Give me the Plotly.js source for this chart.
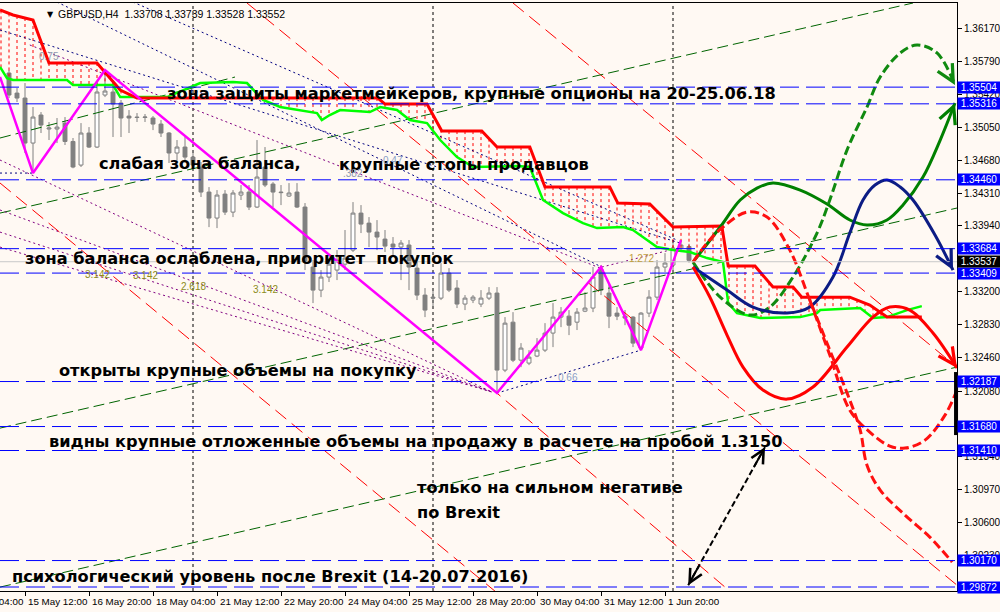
<!DOCTYPE html>
<html><head><meta charset="utf-8">
<script src="https://cdn.plot.ly/plotly-3.0.1.min.js"></script>
<style>html,body{margin:0;padding:0;background:#FFF9F3;}</style>
</head><body>
<div id="chart" style="width:1000px;height:612px"></div>
<script>
// ---------- candles (bar index, 4h bars; index 0 = 15 May 12:00) ----------
const firstBar = -2;
const openP  = [1.35663,1.35437,1.35381,1.34874,1.35190,1.35032,1.35032,1.35099,1.34892,1.34626,1.34987,1.34829,1.35415,1.35449,1.35325,1.35178,1.35167,1.35162,1.35156,1.35088,1.34987,1.34762,1.34829,1.34716,1.34604,1.34322,1.34029,1.34299,1.34096,1.34288,1.34322,1.34153,1.34604,1.34412,1.34322,1.34277,1.34322,1.34153,1.33477,1.33217,1.33364,1.33443,1.33510,1.33668,1.34085,1.33972,1.33871,1.33792,1.33736,1.33702,1.33725,1.33465,1.33161,1.33138,1.33127,1.33409,1.33240,1.33060,1.33105,1.33060,1.33127,1.33184,1.32316,1.32856,1.32428,1.32395,1.32474,1.32541,1.32733,1.32913,1.32924,1.32856,1.32980,1.33015,1.33454,1.33184,1.32958,1.32924,1.32913,1.32564,1.32958,1.33138,1.33477,1.33499,1.33691,1.33708];
const highP  = [1.35697,1.35494,1.35550,1.35280,1.35223,1.35111,1.35156,1.35167,1.34931,1.35099,1.35054,1.35550,1.35674,1.35584,1.35359,1.35246,1.35212,1.35201,1.35178,1.35133,1.34998,1.34908,1.34942,1.34795,1.34660,1.34378,1.34344,1.34344,1.34344,1.34401,1.34401,1.34908,1.34829,1.34434,1.34401,1.34423,1.34423,1.34198,1.33555,1.33443,1.33578,1.33668,1.33894,1.34209,1.34175,1.34040,1.34006,1.33894,1.33815,1.33781,1.33781,1.33612,1.33240,1.33217,1.33521,1.33465,1.33330,1.33161,1.33161,1.33217,1.33251,1.33251,1.32913,1.32969,1.32620,1.32541,1.32677,1.32845,1.33071,1.33026,1.32992,1.33015,1.33195,1.33477,1.33499,1.33296,1.33026,1.32992,1.32924,1.32969,1.33217,1.33555,1.33634,1.33781,1.33781,1.33739];
const lowP   = [1.35381,1.35336,1.34762,1.34536,1.34987,1.34908,1.34874,1.34852,1.34590,1.34604,1.34818,1.34818,1.35392,1.34942,1.34942,1.34987,1.35111,1.35111,1.35020,1.34942,1.34649,1.34682,1.34649,1.34570,1.34266,1.33927,1.33916,1.34063,1.34040,1.34232,1.34119,1.34142,1.34378,1.34153,1.34175,1.34266,1.34142,1.33443,1.33071,1.33138,1.33308,1.33330,1.33443,1.33646,1.33860,1.33702,1.33668,1.33646,1.33601,1.33330,1.33217,1.33105,1.32913,1.33026,1.33105,1.33195,1.33015,1.32992,1.33071,1.33026,1.33105,1.32057,1.32293,1.32406,1.32349,1.32372,1.32462,1.32519,1.32575,1.32800,1.32710,1.32767,1.32969,1.32969,1.33161,1.32789,1.32879,1.32822,1.32575,1.32541,1.32913,1.33105,1.33420,1.33443,1.33646,1.33528];
const closeP = [1.35415,1.35381,1.34874,1.35167,1.35077,1.35043,1.35054,1.34892,1.34604,1.34987,1.34829,1.35449,1.35460,1.35314,1.35156,1.35156,1.35162,1.35167,1.35088,1.34987,1.34762,1.34829,1.34716,1.34626,1.34322,1.34029,1.34288,1.34096,1.34311,1.34322,1.34153,1.34491,1.34401,1.34322,1.34316,1.34311,1.34153,1.33533,1.33217,1.33364,1.33510,1.33555,1.33578,1.34085,1.33961,1.33871,1.33815,1.33713,1.33702,1.33747,1.33477,1.33161,1.32992,1.33127,1.33409,1.33217,1.33060,1.33127,1.33138,1.33127,1.33184,1.32316,1.32845,1.32428,1.32564,1.32462,1.32541,1.32733,1.32913,1.32969,1.32822,1.32969,1.33015,1.33364,1.33217,1.32924,1.32924,1.32902,1.32620,1.32958,1.33138,1.33477,1.33522,1.33691,1.33725,1.33552];
const barIdx = openP.map((_, k) => firstBar + k);

// ---------- x tick labels ----------
const xTickIdx  = [-8, 0, 8, 16, 24, 32, 40, 48, 56, 64, 72, 80];
const xTickText = ["14 May 04:00","15 May 12:00","16 May 20:00","18 May 04:00","21 May 12:00","22 May 20:00","24 May 04:00","25 May 12:00","28 May 20:00","30 May 04:00","31 May 12:00","1 Jun 20:00"];
const separatorIdx = [21, 51, 81];

// ---------- y ticks (labels hidden behind price boxes left empty) ----------
const yTickVals = [1.36170,1.35790,1.35420,1.35050,1.34680,1.34310,1.33940,1.33570,1.33200,1.32830,1.32460,1.32080,1.31710,1.31340,1.30970,1.30600,1.30230];
const yTickHidden = [1.33570, 1.31710];

// ---------- horizontal levels ----------
const levels = [1.35504,1.35316,1.34460,1.33684,1.33409,1.32187,1.31680,1.31410,1.30170,1.29872];
const currentPrice = 1.33537;
const header = "GBPUSD,H4  1.33708 1.33739 1.33528 1.33552";

// ---------- ichimoku cloud ----------
const redIdx = [-3.125,-1.5,1,3,9,11.9,14,44.1,45,50.25,52.1,57.1,59,63.1,65,73.1,74.1,78.1,81,87.1,87.9,91.25,93.5,96,97.1,103.1,105.6,107.75,112.1];
const redVal = [1.36373,1.36317,1.36260,1.35776,1.35776,1.35471,1.35381,1.35381,1.35313,1.35313,1.35009,1.35009,1.34829,1.34829,1.34378,1.34378,1.34198,1.34187,1.33928,1.33939,1.33488,1.33488,1.33251,1.33251,1.33138,1.33138,1.33048,1.32913,1.32913];
const greenIdx = [-3.125,-2.25,-1.5,5.25,6,11,11.9,17.75,21.9,26,27.75,29.75,31.9,36.5,37.1,38.1,39.4,43.1,44.4,46.5,48.1,50.25,51.9,54,56,61.5,63.1,64.75,67.25,69.75,71.5,74.75,76,79,81,83.1,85.25,87.25,87.9,89,91.9,96.9,99,99.4,104.4,106,107.75,110.25,112.1];
const greenVal = [1.35731,1.35606,1.35584,1.35584,1.35528,1.35528,1.35392,1.35392,1.35550,1.35561,1.35550,1.35359,1.35280,1.35212,1.35133,1.35190,1.35246,1.35223,1.35280,1.35246,1.35133,1.35099,1.34908,1.34716,1.34604,1.34615,1.34604,1.34232,1.34085,1.33972,1.33916,1.33928,1.33894,1.33702,1.33668,1.33646,1.33578,1.33533,1.33071,1.32958,1.32902,1.32913,1.32958,1.32992,1.33015,1.32902,1.32913,1.32992,1.33037];

// ---------- zigzag ----------
const zigIdx = [-3.125, 1, 10, 59, 72, 77, 82];
const zigVal = [1.35618, 1.34536, 1.35697, 1.32057, 1.33477, 1.32541, 1.33781];

// ---------- straight trend lines (start idx, start price, end idx, end price) ----------
const redTrendX0 = [61, 27.75, -3.125, 58.1];
const redTrendY0 = [1.36452, 1.36452, 1.34424, 1.32125];
const redTrendX1 = [116.5, 116.5, 58.75, 88.1];
const redTrendY1 = [1.32350, 1.29893, 1.29825, 1.29825];

const greenTrendX0 = [-3.125, -3.125, -3.125, -3.125];
const greenTrendY0 = [1.34931, 1.34085, 1.31662, 1.29871];
const greenTrendX1 = [26.25, 111, 116.5, 116.5];
const greenTrendY1 = [1.35618, 1.36452, 1.34142, 1.32350];

const navyDotX0 = [4, 13.5, -3.125, 59, -3.125];
const navyDotY0 = [1.36463, 1.36463, 1.36148, 1.32057, 1.34536];
const navyDotX1 = [72.1, 81.5, 81.9, 77, 1];
const navyDotY1 = [1.33477, 1.33781, 1.33747, 1.32541, 1.34536];

const purpleDotX0 = [0.6, -3.125, -3.125, -3.125, -3.125, 72.1];
const purpleDotY0 = [1.35979, 1.34683, 1.34120, 1.33871, 1.33702, 1.33477];
const purpleDotX1 = [71.9, 58.4, 58.4, 58.4, 58.4, 80.6];
const purpleDotY1 = [1.33466, 1.32068, 1.32068, 1.32068, 1.32068, 1.33668];

// ---------- forecast curves ----------
const greenDashIdx = [83.5,86.9,90.6,93.1,96,99,100.6,102.75,105.25,106.9,109.4,111.5,114,116.25];
const greenDashVal = [1.33533,1.33139,1.32936,1.33026,1.33364,1.33860,1.34232,1.34795,1.35280,1.35618,1.35889,1.35979,1.35889,1.35528];
const greenSolidIdx = [83.5,86.9,89.4,91.5,93.5,96.9,100.25,103.1,105.25,107.75,109.75,112.25,114.4,116.25];
const greenSolidVal = [1.33533,1.33928,1.34232,1.34367,1.34424,1.34344,1.34187,1.34007,1.33950,1.34007,1.34176,1.34491,1.34908,1.35325];
const navyIdx = [83.5,87.75,91,95.25,98.1,101,103.1,104.75,106.25,107.75,109.4,111,113.75,116];
const navyVal = [1.33477,1.33218,1.33026,1.32959,1.33026,1.33364,1.33860,1.34232,1.34401,1.34457,1.34379,1.34232,1.33838,1.33443];
const redSolidIdx = [83.5,85.6,87.75,89.75,92.25,95.25,98.5,102.75,106,108.1,110.6,113.5,116.5];
const redSolidVal = [1.33477,1.33139,1.32711,1.32350,1.32091,1.31989,1.32125,1.32575,1.32913,1.33026,1.32992,1.32733,1.32339];
const redDashAIdx = [83.5,85.25,87.25,90.25,92.75,95.6,98.1,100.6,103.1,104.4,105.25,106.9,110,113.1,115.9];
const redDashAVal = [1.33533,1.33747,1.33928,1.34097,1.34040,1.33668,1.33105,1.32541,1.31978,1.31640,1.31245,1.30964,1.30682,1.30434,1.30152];
const redDashBIdx = [98.1,100.6,103.1,105.6,108.1,110,112.5,115,116.5];
const redDashBVal = [1.33105,1.32485,1.31865,1.31617,1.31460,1.31437,1.31527,1.31809,1.32091];
const blackArrowIdx = [82.9, 92.5];
const blackArrowVal = [1.29893, 1.31448];

// ---------- texts ----------
const bigTexts = [
  ["зона защиты маркетмейкеров, крупные опционы на 20-25.06.18", 17.5, 1.35438],
  ["слабая зона баланса,", 9, 1.34649],
  ["крупные стопы продавцов", 39, 1.34627],
  ["зона баланса ослаблена, приоритет\u00A0\u00A0покупок", -0.25, 1.33578],
  ["открыты крупные объемы на покупку", 4, 1.32316],
  ["видны крупные отложенные объемы на продажу в расчете на пробой 1.3150", 2.75, 1.31516],
  ["только на сильном негативе", 48.75, 1.30998],
  ["по Brexit", 48.75, 1.30716],
  ["психологический уровень после Brexit (14-20.07.2016)", -1.875, 1.29995]
];
const smallTexts = [
  ["0.75", 3, 1.35844, "#8F9AB0"],
  ["3.142", 9, 1.33398, "#8C8C1A"],
  ["3.142", 15, 1.33387, "#8C8C1A"],
  ["2.618", 21, 1.33263, "#8C8C1A"],
  ["3.142", 30, 1.33229, "#8C8C1A"],
  ["1.272", 77.1, 1.33578, "#C0A040"],
  ["0.66", 67.9, 1.32237, "#8AA0C8"],
  ["0.47", 46, 1.34683, "#8AA0C8"],
  [".382", 41, 1.34536, "#8F9AB0"]
];

// ================= build =================
const X0 = -3.125, X1 = 116.5, Y0 = 1.29827, Y1 = 1.36452;
const BG = '#FFF9F3';

function interp(xs, ys, x) {
  if (x <= xs[0]) return ys[0];
  for (let k = 1; k < xs.length; k++) {
    if (x <= xs[k]) { const t = (x - xs[k-1]) / (xs[k] - xs[k-1]); return ys[k-1] + t * (ys[k] - ys[k-1]); }
  }
  return ys[ys.length - 1];
}
function segs(x0, y0, x1, y1) {
  const xs = [], ys = [];
  for (let k = 0; k < x0.length; k++) { xs.push(x0[k], x1[k], null); ys.push(y0[k], y1[k], null); }
  return {xs, ys};
}

const traces = [];

// hatch
const hx = [], hy = [];
for (let k = Math.ceil(redIdx[0]); k <= Math.floor(redIdx[redIdx.length-1]); k++) {
  const r = interp(redIdx, redVal, k), g = interp(greenIdx, greenVal, k);
  if (r > g + 0.00004) { hx.push(k, k, null); hy.push(r, g, null); }
}
traces.push({x: hx, y: hy, mode: 'lines', line: {color: '#FF0000', width: 1, dash: '3px,3px'}, hoverinfo: 'skip'});

// trend lines
let s = segs(redTrendX0, redTrendY0, redTrendX1, redTrendY1);
traces.push({x: s.xs, y: s.ys, mode: 'lines', line: {color: '#FF0000', width: 1, dash: '14px,7px'}, hoverinfo: 'skip'});
s = segs(greenTrendX0, greenTrendY0, greenTrendX1, greenTrendY1);
traces.push({x: s.xs, y: s.ys, mode: 'lines', line: {color: '#006400', width: 1, dash: '11px,5px'}, hoverinfo: 'skip'});
s = segs(navyDotX0, navyDotY0, navyDotX1, navyDotY1);
traces.push({x: s.xs, y: s.ys, mode: 'lines', line: {color: '#000080', width: 1, dash: '2px,3px'}, hoverinfo: 'skip'});
s = segs(purpleDotX0, purpleDotY0, purpleDotX1, purpleDotY1);
traces.push({x: s.xs, y: s.ys, mode: 'lines', line: {color: '#800080', width: 1, dash: '2px,3px'}, hoverinfo: 'skip'});

// candles
traces.push({type: 'candlestick', x: barIdx, open: openP, high: highP, low: lowP, close: closeP,
  increasing: {line: {color: '#808080', width: 1}, fillcolor: '#FFFFFF'},
  decreasing: {line: {color: '#808080', width: 1}, fillcolor: '#808080'},
  whiskerwidth: 0, hoverinfo: 'skip'});

// ichimoku lines
traces.push({x: greenIdx, y: greenVal, mode: 'lines', line: {color: '#00FF00', width: 2.5}, hoverinfo: 'skip'});
traces.push({x: redIdx, y: redVal, mode: 'lines', line: {color: '#FF0000', width: 3}, hoverinfo: 'skip'});

// zigzag
traces.push({x: zigIdx, y: zigVal, mode: 'lines', line: {color: '#FF00FF', width: 2.5}, hoverinfo: 'skip'});

// forecast curves
const curves = [
  [greenSolidIdx, greenSolidVal, '#008000', 'solid'],
  [greenDashIdx, greenDashVal, '#108A10', '9px,4px'],
  [navyIdx, navyVal, '#0C1C84', 'solid'],
  [redSolidIdx, redSolidVal, '#FF0000', 'solid'],
  [redDashAIdx, redDashAVal, '#FF1010', '9px,4px'],
  [redDashBIdx, redDashBVal, '#FF1010', '9px,4px']
];
const arrowAnns = [];
curves.forEach(c => {
  traces.push({x: c[0], y: c[1], mode: 'lines', line: {color: c[2], width: 3, dash: c[3], shape: 'spline', smoothing: 1}, hoverinfo: 'skip'});
  const n = c[0].length;
  arrowAnns.push({x: c[0][n-1], y: c[1][n-1], xref: 'x', yref: 'y', axref: 'x', ayref: 'y',
    ax: c[0][n-1] + 0.25 * (c[0][n-2] - c[0][n-1]), ay: c[1][n-1] + 0.25 * (c[1][n-2] - c[1][n-1]),
    showarrow: true, arrowhead: 5, arrowsize: 1.1, arrowwidth: 3, arrowcolor: c[2], text: ''});
});
traces.push({x: blackArrowIdx, y: blackArrowVal, mode: 'lines', line: {color: '#000000', width: 2, dash: '6px,3px'}, hoverinfo: 'skip'});
[[1, 0], [0, 1]].forEach(p => {
  const h = p[0], t = p[1];
  arrowAnns.push({x: blackArrowIdx[h], y: blackArrowVal[h], xref: 'x', yref: 'y', axref: 'x', ayref: 'y',
    ax: blackArrowIdx[h] + 0.15 * (blackArrowIdx[t] - blackArrowIdx[h]), ay: blackArrowVal[h] + 0.15 * (blackArrowVal[t] - blackArrowVal[h]),
    showarrow: true, arrowhead: 5, arrowsize: 1.3, arrowwidth: 2, arrowcolor: '#000000', text: ''});
});

// shapes
const shapes = [];
separatorIdx.forEach(v => shapes.push({type: 'line', xref: 'x', yref: 'paper', x0: v, x1: v, y0: 0, y1: 1, layer: 'below', line: {color: '#000000', width: 1, dash: '3px,3px'}}));
shapes.push({type: 'line', xref: 'paper', yref: 'y', x0: 0, x1: 1, y0: currentPrice, y1: currentPrice, line: {color: '#C8C8C8', width: 1}});
levels.forEach(v => shapes.push({type: 'line', xref: 'paper', yref: 'y', x0: 0, x1: 1, y0: v, y1: v, line: {color: '#0000FF', width: 1, dash: '19px,7px'}}));
shapes.push({type: 'line', xref: 'paper', yref: 'y', x0: 0.999, x1: 0.999, y0: 1.32294, y1: 1.31584, line: {color: '#000000', width: 4}});

// annotations
const anns = [];
const TXT = {family: 'DejaVu Sans', size: 16.2, color: '#000000', weight: 'bold'};
bigTexts.forEach(t => anns.push({x: t[1], y: t[2], xref: 'x', yref: 'y', text: t[0], showarrow: false, xanchor: 'left', yanchor: 'middle', font: TXT}));
smallTexts.forEach(t => anns.push({x: t[1], y: t[2], xref: 'x', yref: 'y', text: t[0], showarrow: false, xanchor: 'center', yanchor: 'middle', font: {family: 'Liberation Sans', size: 10, color: t[3]}}));
levels.forEach(v => anns.push({x: 1, y: v, xref: 'paper', yref: 'y', text: v.toFixed(5), showarrow: false, xanchor: 'left', yanchor: 'middle', width: 42, height: 11, align: 'center', bgcolor: '#0000FF', borderpad: 0, font: {family: 'Liberation Sans', size: 10, color: '#FFFFFF'}}));
anns.push({x: 1, y: currentPrice, xref: 'paper', yref: 'y', text: currentPrice.toFixed(5), showarrow: false, xanchor: 'left', yanchor: 'middle', width: 42, height: 11, align: 'center', bgcolor: '#000000', borderpad: 0, font: {family: 'Liberation Sans', size: 10, color: '#FFFFFF'}});
xTickIdx.forEach((v, k) => anns.push({x: (v - X0) / (X1 - X0), y: 0, xref: 'paper', yref: 'paper', text: xTickText[k], showarrow: false, xanchor: 'left', yanchor: 'top', xshift: 1, yshift: -3, font: {family: 'Liberation Sans', size: 9.8, color: '#000000'}}));
anns.push({x: 0.047, y: 0.981, xref: 'paper', yref: 'paper', text: '\u25BC', showarrow: false, xanchor: 'left', yanchor: 'middle', font: {family: 'DejaVu Sans', size: 8, color: '#000000'}});
anns.push({x: 0.058, y: 0.981, xref: 'paper', yref: 'paper', text: header, showarrow: false, xanchor: 'left', yanchor: 'middle', font: {family: 'Liberation Sans', size: 10.5, color: '#000000'}});

const layout = {
  width: 1000, height: 612,
  margin: {l: 0, r: 43, t: 3, b: 21, pad: 0},
  paper_bgcolor: BG, plot_bgcolor: BG,
  showlegend: false, hovermode: false, dragmode: false,
  xaxis: {range: [X0, X1], showgrid: false, zeroline: false, showline: true, mirror: true, linecolor: '#000000', linewidth: 1,
          ticks: 'outside', ticklen: 4, tickcolor: '#000000', tickvals: xTickIdx, showticklabels: false,
          rangeslider: {visible: false}, fixedrange: true},
  yaxis: {side: 'right', range: [Y0, Y1], showgrid: false, zeroline: false, showline: true, linecolor: '#000000', linewidth: 1,
          ticks: 'outside', ticklen: 4, tickcolor: '#000000', tickvals: yTickVals,
          ticktext: yTickVals.map(v => yTickHidden.includes(v) ? '' : v.toFixed(5)),
          tickfont: {family: 'Liberation Sans', size: 10, color: '#000000'}, fixedrange: true},
  shapes: shapes,
  annotations: anns.concat(arrowAnns)
};
Plotly.newPlot('chart', traces, layout, {displayModeBar: false, staticPlot: true});
</script>
</body></html>
